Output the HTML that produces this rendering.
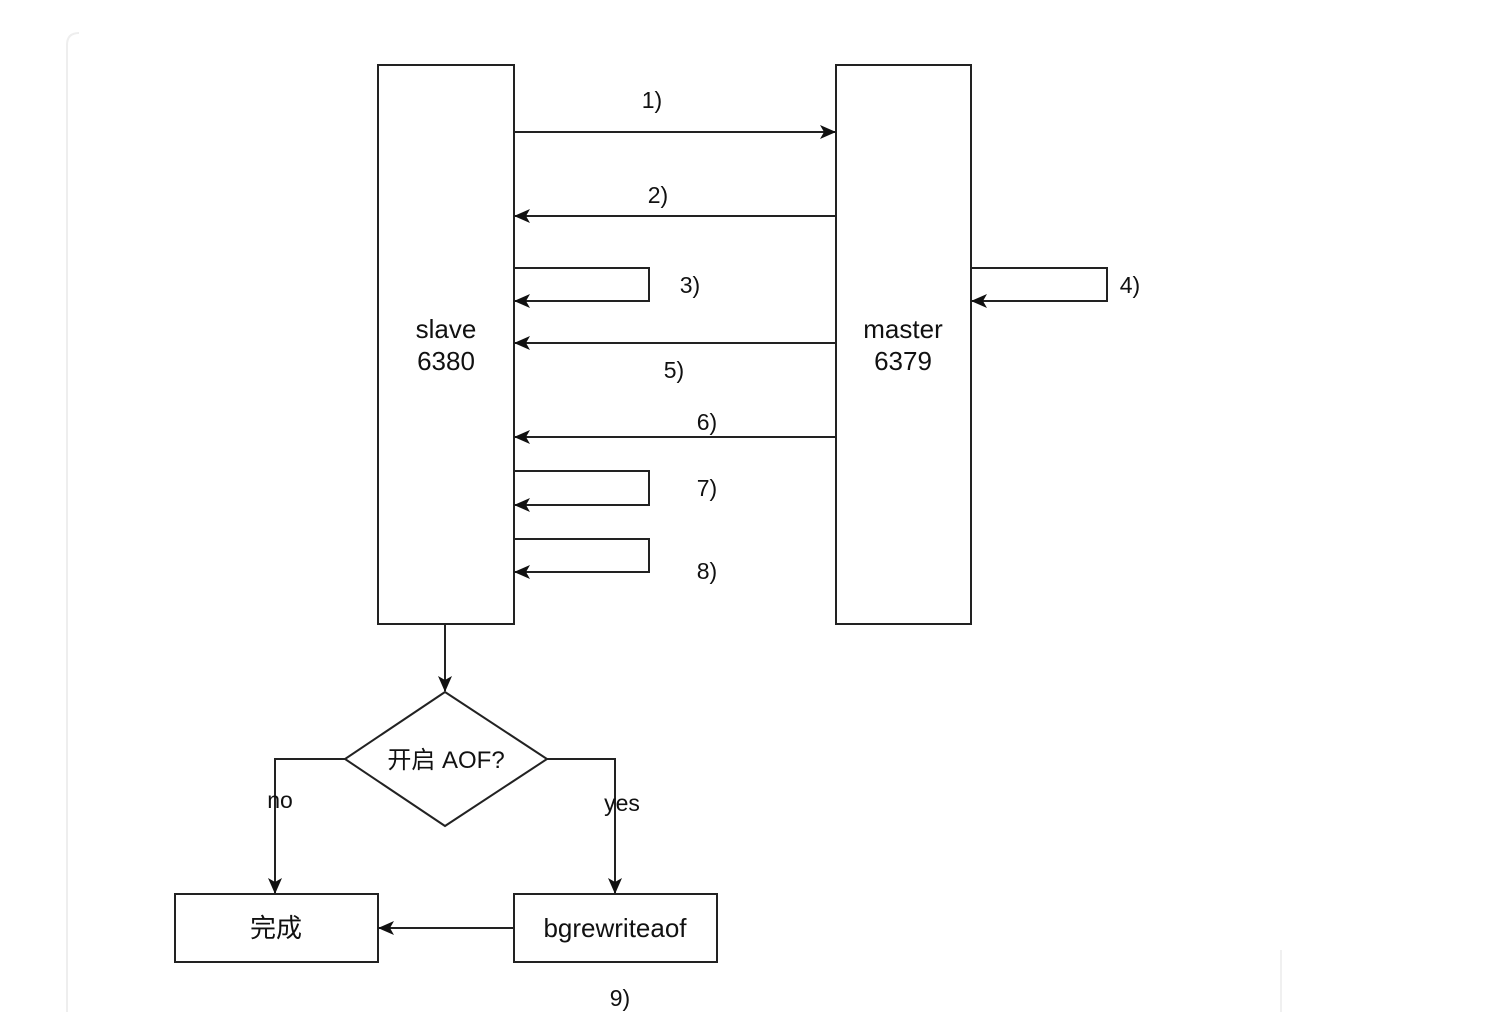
<!DOCTYPE html>
<html><head><meta charset="utf-8"><style>
html,body{margin:0;padding:0;background:#fff;}
svg{display:block;}
text{font-family:"Liberation Sans","Noto Sans CJK SC",sans-serif;fill:#111;}
</style></head><body>
<svg width="1485" height="1012" viewBox="0 0 1485 1012" xmlns="http://www.w3.org/2000/svg">
<defs>
<marker id="a" markerWidth="16" markerHeight="14" refX="15" refY="7" orient="auto" markerUnits="userSpaceOnUse">
<path d="M0,0 L16,7 L0,14 L4,7 Z" fill="#111"/>
</marker>
</defs>
<path d="M67,1012 L67,45 Q67,33 79,33" fill="none" stroke="#eee" stroke-width="2"/>
<line x1="1281" y1="950" x2="1281" y2="1012" stroke="#f0f0f0" stroke-width="2"/>
<g fill="none" stroke="#222" stroke-width="2">
<rect x="378" y="65" width="136" height="559" fill="#fff"/>
<rect x="836" y="65" width="135" height="559" fill="#fff"/>
<line x1="514" y1="132" x2="835" y2="132" marker-end="url(#a)"/>
<line x1="836" y1="216" x2="515" y2="216" marker-end="url(#a)"/>
<polyline points="514,268 649,268 649,301 515,301" marker-end="url(#a)"/>
<polyline points="971,268 1107,268 1107,301 972,301" marker-end="url(#a)"/>
<line x1="836" y1="343" x2="515" y2="343" marker-end="url(#a)"/>
<line x1="836" y1="437" x2="515" y2="437" marker-end="url(#a)"/>
<polyline points="514,471 649,471 649,505 515,505" marker-end="url(#a)"/>
<polyline points="514,539 649,539 649,572 515,572" marker-end="url(#a)"/>
<line x1="445" y1="624" x2="445" y2="691" marker-end="url(#a)"/>
<polygon points="445,692 547,759 445,826 345,759" fill="#fff"/>
<polyline points="345,759 275,759 275,893" marker-end="url(#a)"/>
<polyline points="547,759 615,759 615,893" marker-end="url(#a)"/>
<rect x="175" y="894" width="203" height="68"/>
<rect x="514" y="894" width="203" height="68"/>
<line x1="514" y1="928" x2="379" y2="928" marker-end="url(#a)"/>
</g>
<g font-size="26" text-anchor="middle">
<text x="446" y="338">slave</text>
<text x="446" y="370">6380</text>
<text x="903" y="338">master</text>
<text x="903" y="370">6379</text>
<text x="446" y="768" font-size="24">开启 AOF?</text>
<text x="276" y="937">完成</text>
<text x="615" y="937">bgrewriteaof</text>
</g>
<g font-size="23" text-anchor="middle">
<text x="652" y="108">1)</text>
<text x="658" y="203">2)</text>
<text x="690" y="293">3)</text>
<text x="1130" y="293">4)</text>
<text x="674" y="378">5)</text>
<text x="707" y="430">6)</text>
<text x="707" y="496">7)</text>
<text x="707" y="579">8)</text>
<text x="620" y="1006">9)</text>
<text x="280" y="808">no</text>
<text x="622" y="811">yes</text>
</g>
</svg>
</body></html>
